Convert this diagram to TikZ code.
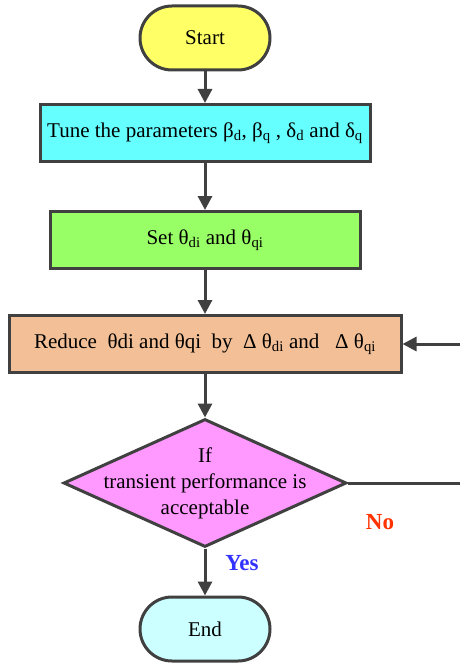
\documentclass[tikz,border=0pt]{standalone}
\usepackage{fontspec}
\setmainfont{Liberation Serif}
\usetikzlibrary{shapes.geometric,shapes.misc,arrows.meta}
\definecolor{edge}{HTML}{404040}
\definecolor{cstart}{HTML}{FFFF66}
\definecolor{ctune}{HTML}{66FFFF}
\definecolor{cset}{HTML}{99FF66}
\definecolor{creduce}{HTML}{F2BF96}
\definecolor{cdecide}{HTML}{FF99FF}
\definecolor{cend}{HTML}{CCFFFF}
\definecolor{yescol}{HTML}{3333FF}
\definecolor{nocol}{HTML}{FF3300}
\newcommand{\sub}[1]{\textsubscript{#1}}
\begin{document}
\begin{tikzpicture}[x=1pt,y=-1pt,
  every node/.style={font=\fontsize{21}{26}\selectfont, text=black},
  box/.style={draw=edge, line width=3pt, rectangle, inner sep=0pt},
  term/.style={draw=edge, line width=3pt, rounded rectangle, minimum width=130pt, minimum height=64pt, inner sep=0pt},
  flow/.style={draw=edge, line width=3pt, -{Triangle[length=14pt,width=14pt]}},
  plain/.style={draw=edge, line width=3pt},
  lbl/.style={font=\bfseries\fontsize{23}{27}\selectfont}]
\useasboundingbox (0,0) rectangle (460,663);
\node[term, fill=cstart] (start) at (205,38) {Start};
\node[box, fill=ctune, minimum width=330pt, minimum height=57pt] (tune) at (205,133)
  {Tune the parameters β\sub{d}, β\sub{q} , δ\sub{d} and δ\sub{q}};
\node[box, fill=cset, minimum width=310pt, minimum height=57pt] (set) at (205,240)
  {Set θ\sub{di} and θ\sub{qi}};
\node[box, fill=creduce, minimum width=392pt, minimum height=57pt] (reduce) at (205,344)
  {Reduce\ \ θdi and θqi\ \ by\ \ Δ θ\sub{di} and\ \ \ Δ θ\sub{qi}};
% decision: fixed-size diamond with its text set on top
\node[draw=edge, line width=3pt, diamond, aspect=2.2, fill=cdecide, minimum width=283pt, minimum height=128pt, inner sep=0pt] (decide) at (205,483) {};
\node[align=center] (decidetext) at (decide.center)
  {If\\transient performance is\\acceptable};
\node[term, fill=cend] (end) at (205,629) {End};
\coordinate (noout) at (460,483);
\coordinate (noin) at (460,344);
\draw[flow] (start) -- (tune);
\draw[flow] (tune) -- (set);
\draw[flow] (set) -- (reduce);
\draw[flow] (reduce) -- (decide);
\draw[flow] (decide) -- (end);
\draw[plain] (decide.east) -- (noout);
\draw[flow] (noin) -- (reduce.east);
\node[lbl, text=yescol] (yes) at (242,563) {Yes};
\node[lbl, text=nocol] (no) at (380,522) {No};
\end{tikzpicture}
\end{document}
